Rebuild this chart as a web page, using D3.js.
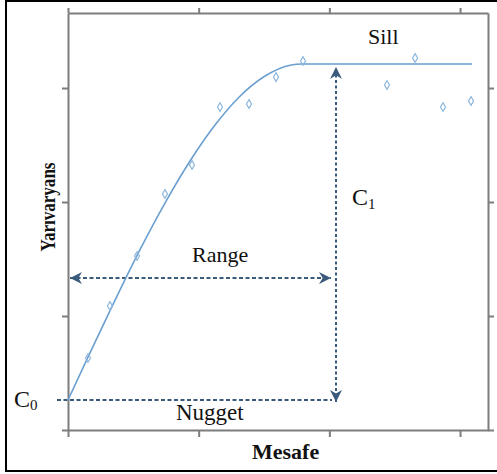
<!DOCTYPE html>
<html>
<head>
<meta charset="utf-8">
<script src="https://cdn.jsdelivr.net/npm/d3@7"></script>
<style>
  body { margin: 0; background: #fff; }
  text { font-family: "Liberation Serif", "Times New Roman", serif; fill: #111; }
</style>
</head>
<body>
<div id="chart"></div>
<script>
"use strict";

// empirical semivariance points (distance, semivariance)
var lagX = [0.153, 0.321, 0.528, 0.742, 0.949, 1.163, 1.385, 1.592, 1.798, 2.441, 2.656, 2.870, 3.084];
var lagY = [0.632, 1.088, 1.526, 2.070, 2.325, 2.833, 2.860, 3.096, 3.237, 3.026, 3.263, 2.833, 2.886];

// fitted model curve
var modelX = [0, 0.168, 0.360, 0.551, 0.742, 0.934, 1.125, 1.316, 1.508, 1.699, 1.791, 3.092];
var modelY = [0.263, 0.677, 1.139, 1.582, 1.991, 2.360, 2.675, 2.928, 3.105, 3.200, 3.211, 3.211];

var nugget = 0.263, sill = 3.211, range = 2.028;
var tickValues = [0, 1, 2, 3];

var width = 497, height = 474;
var plotLeft = 68, plotRight = 488, plotTop = 13, plotBottom = 430;

var svg = d3.select("#chart")
            .append("svg")
            .attr("width", width)
            .attr("height", height)

svg.append("rect")
   .attr("x", 6).attr("y", 1)
   .attr("width", 500).attr("height", 470)
   .attr("fill", "#fff")
   .attr("stroke", "#000")
   .attr("stroke-width", 2)

var x = d3.scaleLinear().domain([0, 3.214]).range([plotLeft, plotRight]);
var y = d3.scaleLinear().domain([0, 3.658]).range([plotBottom, plotTop]);

function styleAxis(g) {
  g.selectAll(".tick text").remove()
  g.selectAll("path, line").attr("stroke", "#7d7d7d").attr("stroke-width", 2)
}

svg.append("g").attr("transform", "translate(0," + plotBottom + ")")
   .call(d3.axisBottom(x).tickValues(tickValues).tickSize(7).tickSizeOuter(0)).call(styleAxis)
svg.append("g").attr("transform", "translate(0," + plotTop + ")")
   .call(d3.axisTop(x).tickValues(tickValues).tickSize(5).tickSizeOuter(0)).call(styleAxis)
svg.append("g").attr("transform", "translate(" + plotLeft + ",0)")
   .call(d3.axisLeft(y).tickValues(tickValues).tickSize(6).tickSizeOuter(0)).call(styleAxis)
svg.append("g").attr("transform", "translate(" + plotRight + ",0)")
   .call(d3.axisRight(y).tickValues(tickValues).tickSize(6).tickSizeOuter(0)).call(styleAxis)

var defs = svg.append("defs");
["end", "start"].forEach(function(k) {
  defs.append("marker")
      .attr("id", "arr-" + k)
      .attr("markerUnits", "userSpaceOnUse")
      .attr("markerWidth", 12).attr("markerHeight", 12)
      .attr("refX", 10).attr("refY", 5)
      .attr("viewBox", "0 0 10 10")
      .attr("orient", k == "end" ? "auto" : "auto-start-reverse")
    .append("path")
      .attr("d", "M0,0 L10,5 L0,10 L3,5 Z")
      .attr("fill", "#3b5b7c")
});

var dashColor = "#3b5b7c";

// nugget line
svg.append("line")
   .attr("x1", x(0) - 11).attr("x2", x(range) - 1)
   .attr("y1", y(nugget)).attr("y2", y(nugget))
   .attr("stroke", dashColor).attr("stroke-width", 2)
   .attr("stroke-dasharray", "4,2.5")

// range arrow
svg.append("line")
   .attr("x1", x(0) + 2).attr("x2", x(range) - 2)
   .attr("y1", y(1.333)).attr("y2", y(1.333))
   .attr("stroke", dashColor).attr("stroke-width", 2)
   .attr("stroke-dasharray", "4,2.5")
   .attr("marker-start", "url(#arr-start)")
   .attr("marker-end", "url(#arr-end)")

// C1 arrow
svg.append("line")
   .attr("x1", x(range) + 3).attr("x2", x(range) + 3)
   .attr("y1", y(nugget) + 2).attr("y2", y(sill) + 3)
   .attr("stroke", dashColor).attr("stroke-width", 2)
   .attr("stroke-dasharray", "3,2.5")
   .attr("marker-start", "url(#arr-start)")
   .attr("marker-end", "url(#arr-end)")

var model = modelX.map(function(d, i) { return [d, modelY[i]] });
svg.append("path")
   .datum(model)
   .attr("fill", "none")
   .attr("stroke", "#6a9fcf")
   .attr("stroke-width", 1.6)
   .attr("d", d3.line()
       .x(function(d) { return x(d[0]) })
       .y(function(d) { return y(d[1]) })
       .curve(d3.curveMonotoneX))

svg.selectAll(".lag")
   .data(lagX)
   .enter()
   .append("path")
   .attr("class", "lag")
   .attr("transform", function(d, i) { return "translate(" + x(d) + "," + y(lagY[i]) + ")" })
   .attr("d", d3.symbol().type(d3.symbolDiamond).size(22))
   .attr("fill", "none")
   .attr("stroke", "#8db6dc")
   .attr("stroke-width", 1.2)

function label(txt, px, py, size, weight) {
  return svg.append("text")
            .attr("x", px).attr("y", py)
            .attr("font-size", size)
            .attr("font-weight", weight || "normal")
            .text(txt)
}

label("Sill", 368, 44, 22)
label("Range", 192, 262, 22)
label("Nugget", 176, 420, 23)
label("Mesafe", 252, 459, 22, "bold")

var c1 = label("C", 352, 205, 24);
c1.append("tspan").attr("font-size", 15).attr("dy", 4).text("1")
var c0 = label("C", 14, 407, 24);
c0.append("tspan").attr("font-size", 15).attr("dy", 3).text("0")

svg.append("text")
   .attr("transform", "translate(55,207) rotate(-90)")
   .attr("text-anchor", "middle")
   .attr("font-size", 20)
   .attr("font-weight", "bold")
   .attr("textLength", 89)
   .attr("lengthAdjust", "spacingAndGlyphs")
   .text("Yarıvaryans")
</script>
</body>
</html>
